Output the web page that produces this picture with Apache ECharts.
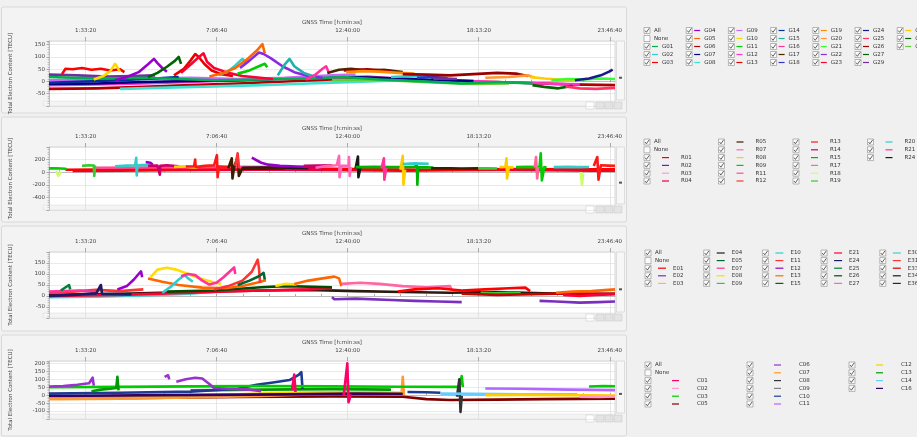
<!DOCTYPE html>
<html>
<head>
<meta charset="utf-8">
<script src="https://cdn.jsdelivr.net/npm/echarts@6/dist/echarts.min.js"></script>
<style>
html, body { margin: 0; padding: 0; background: #f0f0f0; }
#main { width: 917px; height: 437px; }
</style>
</head>
<body>
<div id="main"></div>
<script>
// x 轴刻度 (秒)
var tickSecs = [5600, 25600, 45600, 65600, 85600];
var minorStepSecs = 4000;

// GPS
var gpsNames = ['G01','G02','G03','G04','G05','G06','G07','G08','G09','G10','G11','G12','G13','G14','G15','G16',
    'G17','G18','G19','G20','G21','G22','G23','G24','G25','G26','G27','G29','G30','G31','G32'];
var gpsColors = ['#00b050','#33cccc','#ff0000','#9900cc','#ff6600','#b00000','#000080','#40e0d0','#cc66ff','#ffd700',
    '#00cc00','#ff33cc','#e60000','#003399','#20b2aa','#ff3399','#4d2600','#3333cc','#ff8c00','#ff9933','#33ff33',
    '#8a2be2','#ff0033','#1a1a8c','#ff3366','#990000','#006400','#7030a0','#ffcc00','#006600','#66cc33'];
var gpsTracks = [
    ['G06', [[0,-30],[2,-28],[4,-22],[6,-15],[8,-8],[10,0],[12,8],[14,12],[16,8],[18,0],[20,-5],[22,-12],[24,-15]]],
    ['G08', [[3,-30],[5,-25],[7,-20],[9,-15],[11,-8],[13,-2],[15,5],[16.5,8]]],
    ['G12', [[0,-15],[2,-12],[4,-8],[6,-2],[8,5],[10,10],[12,15],[13.5,20],[15,10],[17,5],[19,-2],[21,-8],[22.5,-12]]],
    ['G07', [[0,-10],[2,-8],[4,-2],[6,2],[8,5],[10,12],[12,20],[14,15],[16,8],[18,2]]],
    ['G09', [[0,5],[2,8],[4,12],[6,15],[8,10],[10,15],[12,25],[13,28]]],
    ['G14', [[0,-5],[1.5,0],[3,5],[4.5,12],[5.5,18]]],
    ['G29', [[0,28],[1.2,25],[2.5,20],[3.5,22],[4.5,25]]],
    ['G32', [[12,5],[13.5,8],[15,2],[16.5,-5],[18,-10],[19.5,-8]]],
    ['G01', [[0,18],[1,15],[2.5,12],[4,15],[5.5,10],[7,5],[9,8],[11,12],[12.5,18],[14,8],[16,0],[17.5,-8],[19,-2],[20.5,-8]]],
    ['G03', [[0.55,30],[0.7,52],[1.0,50],[1.4,55],[1.8,48],[2.2,52],[2.6,45],[3.0,50],[3.2,38]]],
    ['G10', [[1.9,8],[2.3,22],[2.6,42],[2.8,72],[2.9,58],[3.0,40]]],
    ['G04', [[2.8,5],[3.3,18],[3.8,38],[4.2,70],[4.45,92],[4.6,75],[4.8,55],[5.0,40]]],
    ['G27', [[4.2,18],[4.6,35],[5.0,60],[5.35,85],[5.5,100],[5.6,72]]],
    ['G13', [[5.3,25],[5.7,50],[6.0,85],[6.2,112],[6.35,100],[6.6,70],[6.9,45],[7.3,30],[7.8,22]]],
    ['G23', [[5.6,35],[5.9,60],[6.3,95],[6.55,115],[6.7,80],[7.0,55],[7.6,35],[8.2,22],[9.5,10]]],
    ['G02', [[7.2,25],[7.6,42],[7.9,65],[8.2,92],[8.35,78]]],
    ['G05', [[6.8,20],[7.4,35],[7.9,55],[8.4,90],[8.8,125],[9.05,152],[9.15,115]]],
    ['G22', [[8.1,55],[8.5,85],[8.9,118],[9.1,112],[9.4,95],[9.9,62],[10.4,38],[11.0,22],[11.6,15]]],
    ['G11', [[8.0,32],[8.5,45],[8.9,62],[9.15,72],[9.25,58]]],
    ['G15', [[9.7,25],[10.0,70],[10.2,92],[10.4,62],[10.8,35],[11.3,18]]],
    ['G16', [[10.9,8],[11.3,28],[11.6,52],[11.75,62],[11.85,40]]],
    ['G17', [[11.8,35],[12.3,48],[12.8,52],[13.5,45],[14.2,48],[15.0,38]]],
    ['G26', [[12.5,45],[13.5,50],[14.5,42]]],
    ['G19', [[12.6,38],[13.3,42],[14.0,40],[14.8,35],[15.5,32]]],
    ['G02', [[14.5,18],[15.5,22],[16.2,15]]],
    ['G18', [[15.6,15],[16.3,18],[16.9,14]]],
    ['G29', [[16.3,10],[16.8,12],[17.3,10]]],
    ['G26', [[15.0,30],[16.0,28],[17.0,25],[18.0,30],[19.0,35],[19.8,32],[20.3,22]]],
    ['G20', [[18.5,15],[19.5,18],[20.3,25],[20.6,15]]],
    ['G30', [[20.4,18],[21.0,12],[21.6,8],[22.3,3]]],
    ['G31', [[20.5,-15],[21.0,-22],[21.6,-28],[22.2,-18]]],
    ['G21', [[21.3,5],[22.0,10],[22.7,8],[23.4,12],[24.0,10]]],
    ['G25', [[21.9,-20],[22.5,-28],[23.2,-30],[24.0,-26]]],
    ['G24', [[22.3,5],[22.9,12],[23.4,25],[23.75,40],[23.9,48]]]
];

// GLONASS
var gloNames = ['R01','R02','R03','R04','R05','R07','R08','R09','R11','R12','R13','R14','R15','R17','R18','R19','R20','R21','R24'];
var gloColors = ['#ff0000','#9900cc','#ff99cc','#e6004c','#3d1f00','#ff66b3','#ffcc00','#00cc00','#ff4d94','#ff3333',
    '#ff1a1a','#cc0066','#00b300','#ff6699','#ccff66','#33cc33','#33cccc','#ff3399','#1a1a1a'];
var gloTracks = [
    ['R04', [[1,20],[3,25],[5,30],[7,35],[9,40],[11,35],[13,30],[15,25],[17,30],[19,35],[21,30],[23,25],[24,25]]],
    ['R01', [[0.7,40],[2,42],[4,45],[6,48],[8,52],[10,55],[12,52],[14,45],[16,40],[18,45],[20,50],[22,48],[24,45]]],
    ['R11', [[2,70],[4,75],[6,80],[8,85],[10,80],[11,75]]],
    ['R24', [[8.2,70],[9,75],[10,70],[11,65]]],
    ['R09', [[0,60],[0.3,62],[0.7,55],[0.75,40]]],
    ['R18', [[0.3,20],[0.4,-60],[0.5,10]]],
    ['R19', [[1.4,100],[1.7,110],[1.9,105],[1.92,-60],[1.95,90],[2.0,80]]],
    ['R20', [[2.8,95],[3.3,105],[3.65,110],[3.7,230],[3.72,-50],[3.75,110],[4.0,115],[4.3,105]]],
    ['R02', [[4.1,160],[4.3,150],[4.4,120]]],
    ['R14', [[4.2,100],[4.6,105],[4.7,-40],[4.72,100],[5.0,110],[5.5,95]]],
    ['R08', [[5.3,85],[5.7,90],[6.0,80],[6.3,70]]],
    ['R13', [[5.8,90],[6.15,95],[6.2,200],[6.22,80],[6.6,100],[7.0,110],[7.12,270],[7.15,-80],[7.2,90],[7.6,80]]],
    ['R05', [[7.6,60],[7.75,220],[7.78,-100],[7.85,80],[8.0,240],[8.05,-60],[8.2,60],[9,55],[10,60]]],
    ['R12', [[7.9,100],[8.0,300],[8.05,60]]],
    ['R02', [[8.6,230],[8.8,190],[9.0,150],[9.3,120],[9.8,100],[10.5,90],[11.0,85],[11.6,80]]],
    ['R14', [[10.8,100],[11.4,105],[12.0,110]]],
    ['R07', [[11.3,70],[11.8,100],[12.2,110],[12.3,260],[12.32,-80],[12.4,100],[12.7,105],[12.72,240],[12.75,-60],[12.8,80]]],
    ['R24', [[13.0,60],[13.1,250],[13.12,-80],[13.2,70]]],
    ['R15', [[13.0,80],[13.8,85],[14.5,80],[15.5,85],[15.6,110],[15.62,-200],[15.65,80],[16.3,75]]],
    ['R21', [[14.1,60],[14.2,220],[14.22,-120],[14.3,70]]],
    ['R08', [[14.9,40],[15.0,260],[15.03,-200],[15.1,40]]],
    ['R20', [[15.0,130],[15.5,140],[16.1,135]]],
    ['R05', [[16.2,60],[17.0,62],[17.5,58],[18.2,60]]],
    ['R19', [[18.2,60],[18.6,62],[19.0,58]]],
    ['R08', [[19.1,80],[19.35,85],[19.4,220],[19.42,-100],[19.5,80],[19.7,75]]],
    ['R09', [[19.8,80],[20.3,85],[20.8,80],[20.85,300],[20.9,-130],[21.0,80],[21.1,75]]],
    ['R17', [[20.6,80],[20.65,240],[20.7,-100],[20.75,80]]],
    ['R20', [[21.4,80],[22.0,85],[22.5,80],[22.9,82]]],
    ['R18', [[22.55,0],[22.6,-200],[22.65,-20]]],
    ['R13', [[23.1,100],[23.25,240],[23.3,-120],[23.4,110],[23.7,105],[24.0,100]]]
];

// Galileo
var galNames = ['E01','E02','E03','E04','E05','E07','E08','E09','E10','E11','E12','E13','E15','E21','E24','E25','E26','E27','E30','E31','E33','E34','E36'];
var galColors = ['#ff0000','#7b2fbf','#ffb366','#2b1a0f','#006633','#ff3399','#ffdd00','#33cc33','#33cccc','#ff3333','#9900cc',
    '#ff6600','#006600','#ff0033','#1a1a66','#00803c','#004d00','#ff66a3','#40d0d0','#ff3333','#cc0000','#1a1a1a','#262626'];
var galTracks = [
    ['E04', [[0,5],[3,10],[6,18],[9,25],[11,28],[13,22],[15,18],[17,15],[19,18],[21,12],[23,8],[24,10]]],
    ['E30', [[0,-5],[2,-3],[4,2],[6,10],[7,20],[8,30]]],
    ['E21', [[0,0],[3,5],[6,15],[9,25],[11,30],[12,35]]],
    ['E26', [[5,20],[7,25],[9,40],[10,45],[12,40]]],
    ['E31', [[0,15],[1,20],[2,28],[3,22],[4,30]]],
    ['E07', [[0,20],[1.3,25],[2,18]]],
    ['E25', [[0.5,25],[0.85,50],[0.9,30]]],
    ['E24', [[0,0],[1.0,5],[2.0,12],[2.2,50],[2.25,10],[3.5,8]]],
    ['E12', [[2.9,30],[3.3,45],[3.6,75],[3.8,100],[3.9,112],[3.95,85]]],
    ['E13', [[4.2,80],[4.8,65],[5.5,50],[6.5,38],[7.5,35],[8.3,48],[8.8,60],[9.2,72]]],
    ['E08', [[4.3,85],[4.6,120],[5.0,128],[5.4,120],[5.9,100],[6.4,80],[6.9,65],[7.3,55]]],
    ['E10', [[4.8,15],[5.2,45],[5.5,75],[5.75,95],[5.9,80],[6.1,65]]],
    ['E07', [[5.6,90],[5.9,100],[6.2,95],[6.5,70],[6.8,52],[7.1,60],[7.4,85],[7.7,115],[7.85,130],[7.9,100]]],
    ['E11', [[7.0,30],[7.6,45],[8.2,70],[8.6,110],[8.85,165],[8.9,130],[8.95,60]]],
    ['E05', [[8.0,50],[8.5,70],[8.9,90],[9.1,105],[9.15,75]]],
    ['E08', [[9.6,45],[10.0,55],[10.5,52]]],
    ['E13', [[10.4,55],[11.0,70],[11.6,80],[12.1,88],[12.3,80],[12.4,45]]],
    ['E27', [[12.4,55],[13.2,60],[14.0,55],[15.0,45],[16.0,40],[17.0,45],[17.1,20]]],
    ['E02', [[12.0,-5],[12.1,-15],[13.0,-12],[14.5,-18],[15.5,-22],[16.5,-25],[17.5,-28]]],
    ['E01', [[14.8,20],[15.5,30],[16.5,35],[17.5,25],[18.5,30],[19.5,35],[20.2,38],[20.4,22]]],
    ['E09', [[18.3,15],[18.9,12],[19.5,14],[20.0,12]]],
    ['E33', [[17.5,10],[19,5],[20.5,8],[22,12],[24,10]]],
    ['E13', [[21.5,15],[22.2,20],[23,22],[24,30]]],
    ['E02', [[20.8,-22],[21.5,-25],[22.5,-30],[23.3,-28],[24,-25]]],
    ['E21', [[21.8,5],[22.5,0],[23.2,5],[24,8]]]
];

// BeiDou
var bdsNames = ['C01','C02','C03','C05','C06','C07','C08','C09','C10','C11','C12','C13','C14','C16'];
var bdsColors = ['#ff0066','#ff99cc','#00cc00','#800000','#9933cc','#ff9933','#333333','#808080','#1f3a93','#b366ff',
    '#ffcc00','#009900','#66ccff','#330066'];
var bdsTracks = [
    ['C05', [[0,-20],[4,-18],[8,-12],[12,-8],[15,-10],[16,-25],[17,-30],[19,-28],[21,-25],[24,-22]]],
    ['C07', [[0,-25],[3,-22],[6,-15],[9,-5],[11,5],[13,10],[14.95,5],[15.0,115],[15.05,0]]],
    ['C12', [[0,-10],[4,-5],[8,5],[10,15],[12,20],[14,18],[15,15]]],
    ['C16', [[0,-5],[5,0],[10,5],[13,10],[15,8]]],
    ['C13', [[6,30],[9,35],[12,38],[14.5,35]]],
    ['C10', [[0,10],[3,15],[6,22],[8,40],[8.8,65],[9.5,80],[10.2,95],[10.6,130],[10.7,145],[10.75,40]]],
    ['C03', [[0,50],[3,52],[6,55],[9,58],[12,55],[15,53],[17.4,52],[17.5,120],[17.55,50]]],
    ['C03', [[22.9,55],[23.5,58],[24,56]]],
    ['C06', [[0,55],[0.6,58],[1.2,65],[1.7,75],[1.85,110],[1.9,60]]],
    ['C13', [[1.8,25],[2.2,35],[2.6,40],[2.85,45],[2.9,115],[2.95,30]]],
    ['C06', [[4.9,115],[5.05,125],[5.1,100]]],
    ['C06', [[5.4,85],[5.8,100],[6.2,110],[6.5,105],[6.8,70],[7.0,45],[7.6,40],[8.5,35],[9,25]]],
    ['C01', [[10.3,30],[10.4,130],[10.45,20]]],
    ['C01', [[12.5,0],[12.65,200],[12.7,-45],[12.8,5]]],
    ['C10', [[15.2,20],[16,18],[16.6,15]]],
    ['C08', [[17.3,-10],[17.4,100],[17.45,-105],[17.5,-5]]],
    ['C14', [[16.6,10],[18,8],[20,5],[22.4,5]]],
    ['C11', [[18.5,42],[20,40],[22,35],[24,32]]],
    ['C12', [[18.5,0],[20,2],[22,0],[24,-2]]],
    ['C02', [[22.5,-10],[23.3,-12],[24,-8]]]
];

// 面板布局
var panels = [
    { names: gpsNames, colors: gpsColors, tracks: gpsTracks, top: 41, bottom: 106, min: -100, max: 165, interval: 50, frame: [7, 113],
      legend: { x: 647, y: 30.5, colW: 42.2, rowH: 8, rows: 5, lineDx: 5, lineLen: 6, labelDx: 15 } },
    { names: gloNames, colors: gloColors, tracks: gloTracks, top: 147, bottom: 210, min: -600, max: 400, interval: 200, frame: [117, 222],
      legend: { x: 647, y: 142, colW: 74.5, rowH: 7.8, rows: 6, lineDx: 15, lineLen: 7, labelDx: 34 } },
    { names: galNames, colors: galColors, tracks: galTracks, top: 252, bottom: 318, min: -100, max: 200, interval: 50, frame: [226, 331],
      legend: { x: 648, y: 253, colW: 58.7, rowH: 7.6, rows: 5, lineDx: 10, lineLen: 8, labelDx: 25 } },
    { names: bdsNames, colors: bdsColors, tracks: bdsTracks, top: 361, bottom: 419, min: -150, max: 215, interval: 50, frame: [335, 436],
      legend: { x: 648, y: 365, colW: 102, rowH: 7.8, rows: 6, lineDx: 24, lineLen: 7, labelDx: 49 } }
];

var plotLeft = 43, plotRight = 615;

function hms(h) {
    var s = Math.round(h * 3600);
    var hh = Math.floor(s / 3600), mm = Math.floor((s % 3600) / 60), ss = s % 60;
    return hh + ':' + (mm < 10 ? '0' : '') + mm + ':' + (ss < 10 ? '0' : '') + ss;
}

var majorHours = tickSecs.map(function(s) { return s / 3600; });
var minorHours = [];
for (var s = tickSecs[0] % minorStepSecs; s <= 86400; s += minorStepSecs) {
    minorHours.push(s / 3600);
}

var grids = [], xAxes = [], yAxes = [], series = [], graphics = [];

function legendGraphics(names, colors, cfg) {
    var items = [{ name: 'All', checked: true }, { name: 'None', checked: false }];
    for (var i = 0; i < names.length; i++) {
        items.push({ name: names[i], checked: true, color: colors[i] });
    }
    items.forEach(function(it, i) {
        var col = Math.floor(i / cfg.rows), row = i % cfg.rows;
        var bx = cfg.x + col * cfg.colW, cy = cfg.y + row * cfg.rowH;
        graphics.push({ type: 'rect', shape: { x: bx - 3, y: cy - 3, width: 6, height: 6 },
            style: { fill: '#fbfbfb', stroke: '#8c8c8c', lineWidth: 0.6 } });
        if (it.checked) {
            graphics.push({ type: 'polyline', shape: { points: [[bx - 2, cy], [bx - 0.6, cy + 1.8], [bx + 2.2, cy - 2.2]] },
                style: { stroke: '#3a3a3a', lineWidth: 0.8, fill: null } });
        }
        if (it.color) {
            graphics.push({ type: 'line', shape: { x1: bx + cfg.lineDx, y1: cy, x2: bx + cfg.lineDx + cfg.lineLen, y2: cy },
                style: { stroke: it.color, lineWidth: 1.2 } });
        }
        graphics.push({ type: 'text', x: bx + (it.color ? cfg.labelDx : 7), y: cy,
            style: { text: it.name, fontSize: 5.5, fill: '#333', verticalAlign: 'middle', fontFamily: 'DejaVu Sans' } });
    });
}

panels.forEach(function(p, i) {
    grids.push({
        left: plotLeft, width: plotRight - plotLeft, top: p.top, height: p.bottom - p.top,
        show: true, backgroundColor: '#ffffff', borderColor: '#c4c4c4', borderWidth: 0.6
    });
    // 可见的顶部时间轴
    xAxes.push({
        type: 'value', gridIndex: i, position: 'top', min: 0, max: 24,
        name: 'GNSS Time [h:min:ss]', nameLocation: 'middle', nameGap: 15,
        nameTextStyle: { fontSize: 5.5, color: '#444', fontFamily: 'DejaVu Sans' },
        axisLine: { show: true, lineStyle: { color: '#9a9a9a', width: 0.6 } },
        axisTick: { show: true, customValues: minorHours, length: 2, lineStyle: { color: '#777', width: 0.6 } },
        axisLabel: { customValues: majorHours, formatter: hms, fontSize: 5.5, color: '#444', margin: 7, fontFamily: 'DejaVu Sans' },
        splitLine: { show: false }
    });
    // 主刻度竖线
    xAxes.push({
        type: 'value', gridIndex: i, position: 'top', min: 0, max: 24,
        axisLine: { show: false },
        axisTick: { show: true, customValues: majorHours, length: 4, lineStyle: { color: '#777', width: 0.6 } },
        axisLabel: { show: false },
        splitLine: { show: true, lineStyle: { color: '#d6d6d6', width: 0.6 } }
    });
    yAxes.push({
        type: 'value', gridIndex: i, min: p.min, max: p.max, interval: p.interval,
        name: 'Total Electron Content [TECU]', nameLocation: 'middle', nameGap: 35, nameRotate: 90,
        nameTextStyle: { fontSize: 5.5, color: '#444', fontFamily: 'DejaVu Sans' },
        axisLine: { show: true, lineStyle: { color: '#9a9a9a', width: 0.6 } },
        axisTick: { show: true, length: 2.5, lineStyle: { color: '#777', width: 0.6 } },
        minorTick: { show: true, splitNumber: 5, length: 1.5, lineStyle: { color: '#999', width: 0.5 } },
        axisLabel: { fontSize: 5.5, color: '#444', margin: 4, showMinLabel: false, showMaxLabel: false, fontFamily: 'DejaVu Sans' },
        splitLine: { show: true, lineStyle: { color: '#dcdcdc', width: 0.6 } }
    });
    p.tracks.forEach(function(t) {
        var ci = p.names.indexOf(t[0]);
        series.push({
            type: 'line', name: t[0], xAxisIndex: i * 2, yAxisIndex: i,
            data: t[1], showSymbol: false, symbol: 'none', silent: true, animation: false,
            lineStyle: { width: 2.6, color: p.colors[ci], join: 'round' }, itemStyle: { color: p.colors[ci] }
        });
    });

    // 面板外框
    graphics.push({ type: 'rect', z: -10, shape: { x: 1.5, y: p.frame[0], width: 625, height: p.frame[1] - p.frame[0], r: 2 },
        style: { fill: '#f3f3f3', stroke: '#d2d2d2', lineWidth: 0.8 } });
    // 右侧滚动条
    graphics.push({ type: 'rect', shape: { x: plotRight + 1.5, y: p.top, width: 8, height: p.bottom - p.top - 6 },
        style: { fill: '#f7f7f7', stroke: '#cfcfcf', lineWidth: 0.6 } });
    graphics.push({ type: 'rect', shape: { x: plotRight + 4, y: p.top + (p.bottom - p.top) * 0.55, width: 3, height: 2 },
        style: { fill: '#555' } });
    // 底部滚动条及按钮
    graphics.push({ type: 'rect', shape: { x: plotLeft, y: p.bottom - 5, width: plotRight - plotLeft, height: 5 },
        style: { fill: '#f4f4f4', stroke: '#dadada', lineWidth: 0.5 } });
    [586, 596, 605, 614].forEach(function(bx, k) {
        graphics.push({ type: 'rect', shape: { x: bx, y: p.bottom - 4, width: 8, height: 7 },
            style: { fill: k === 0 ? '#ffffff' : '#e4e4e4', stroke: '#c6c6c6', lineWidth: 0.5 } });
    });
    legendGraphics(p.names, p.colors, p.legend);
});

var myChart = echarts.init(document.getElementById('main'));
myChart.setOption({
    backgroundColor: '#f0f0f0',
    animation: false,
    textStyle: { fontFamily: 'DejaVu Sans' },
    grid: grids,
    xAxis: xAxes,
    yAxis: yAxes,
    series: series,
    graphic: { elements: graphics }
});
window.addEventListener('resize', function() {
    myChart.resize();
});
</script>
</body>
</html>
